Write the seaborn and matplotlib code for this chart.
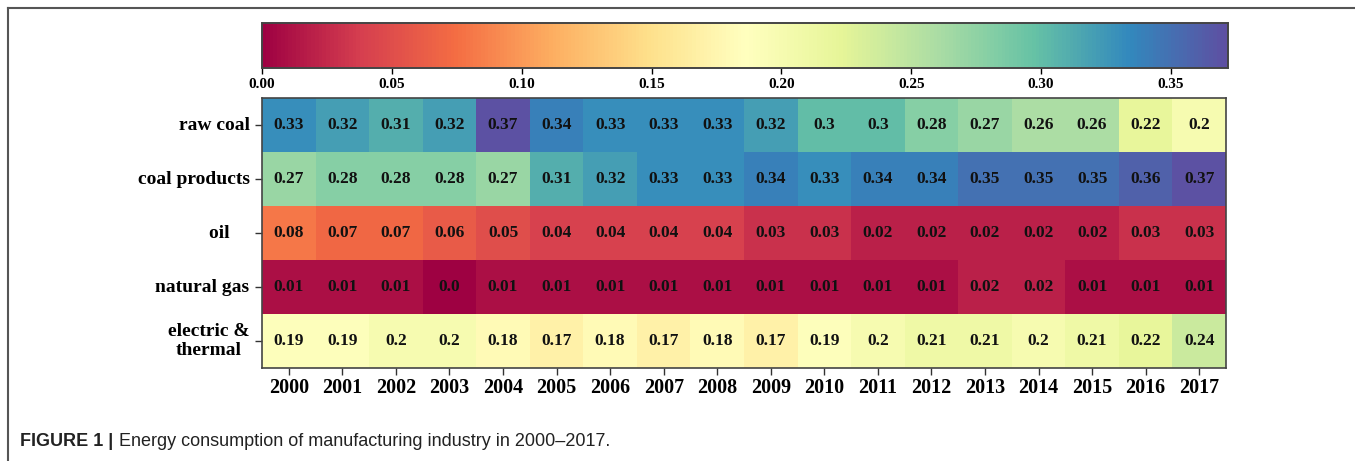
import numpy as np
import pandas as pd
import matplotlib
matplotlib.use("Agg")
import matplotlib.pyplot as plt
import seaborn as sns
from matplotlib.lines import Line2D

# data
years = [str(y) for y in range(2000, 2018)]
fuels = ["raw coal", "coal products", "oil    ", "natural gas", "electric &\nthermal"]

raw_coal = [0.33, 0.32, 0.31, 0.32, 0.37, 0.34, 0.33, 0.33, 0.33, 0.32, 0.30, 0.30, 0.28, 0.27, 0.26, 0.26, 0.22, 0.20]
coal_products = [0.27, 0.28, 0.28, 0.28, 0.27, 0.31, 0.32, 0.33, 0.33, 0.34, 0.33, 0.34, 0.34, 0.35, 0.35, 0.35, 0.36, 0.37]
oil = [0.08, 0.07, 0.07, 0.06, 0.05, 0.04, 0.04, 0.04, 0.04, 0.03, 0.03, 0.02, 0.02, 0.02, 0.02, 0.02, 0.03, 0.03]
natural_gas = [0.01, 0.01, 0.01, 0.00, 0.01, 0.01, 0.01, 0.01, 0.01, 0.01, 0.01, 0.01, 0.01, 0.02, 0.02, 0.01, 0.01, 0.01]
electric = [0.19, 0.19, 0.20, 0.20, 0.18, 0.17, 0.18, 0.17, 0.18, 0.17, 0.19, 0.20, 0.21, 0.21, 0.20, 0.21, 0.22, 0.24]

cbar_ticks = [0, 0.05, 0.1, 0.15, 0.2, 0.25, 0.3, 0.35]

df = pd.DataFrame([raw_coal, coal_products, oil, natural_gas, electric],
                  index=fuels, columns=years)
labels = df.map(lambda v: f"{round(v, 2)}")

serif = "Liberation Serif"

fig = plt.figure(figsize=(13.55, 4.61), dpi=100)
ax = fig.add_axes([0.1934, 0.2017, 0.7114, 0.5857])
cax = fig.add_axes([0.1934, 0.8525, 0.7129, 0.0976])

sns.heatmap(df, ax=ax, cmap="Spectral", vmin=0, vmax=0.372,
            annot=labels, fmt="",
            annot_kws={"fontsize": 12.5, "fontweight": "bold", "family": serif, "color": "#111111"},
            cbar_ax=cax, cbar_kws={"orientation": "horizontal", "ticks": cbar_ticks})

# frame around heatmap
for s in ax.spines.values():
    s.set_visible(True)
    s.set_linewidth(1.2)
    s.set_color("#444444")

ax.set_xlabel("")
ax.set_ylabel("")
ax.tick_params(axis="both", length=5, width=1, color="#333333")
ax.tick_params(axis="x", pad=2)
ax.set_xticklabels(years, rotation=0, fontsize=14.5, fontweight="bold", family=serif)
ax.set_yticklabels(fuels, rotation=0, fontsize=14, fontweight="bold", family=serif,
                   linespacing=1.2, multialignment="center")
ax.tick_params(axis="y", pad=4)

cax.tick_params(axis="x", length=4, width=1)
cax.set_xticklabels([f"{t:.2f}" for t in cbar_ticks],
                    fontweight="bold", family=serif, fontsize=11)
for s in cax.spines.values():
    s.set_visible(True)
    s.set_linewidth(1.2)
    s.set_color("#444444")

# partial frame and caption
fig.add_artist(Line2D([8 / 1355, 8 / 1355], [0, 1 - 8 / 461], transform=fig.transFigure,
                      color="#555555", lw=1.5))
fig.add_artist(Line2D([8 / 1355, 1], [1 - 8 / 461, 1 - 8 / 461], transform=fig.transFigure,
                      color="#555555", lw=1.5))

t1 = fig.text(20 / 1355, 1 - 441 / 461, "FIGURE 1 |", fontsize=13, fontweight="bold",
              family="Liberation Sans", va="center", color="#222222")
ax.annotate("Energy consumption of manufacturing industry in 2000\u20132017.",
            xy=(1, 0.5), xycoords=t1, xytext=(4, 0), textcoords="offset points",
            fontsize=13, family="Liberation Sans", va="center", color="#222222",
            annotation_clip=False)

fig.savefig("out.png", dpi=100)
